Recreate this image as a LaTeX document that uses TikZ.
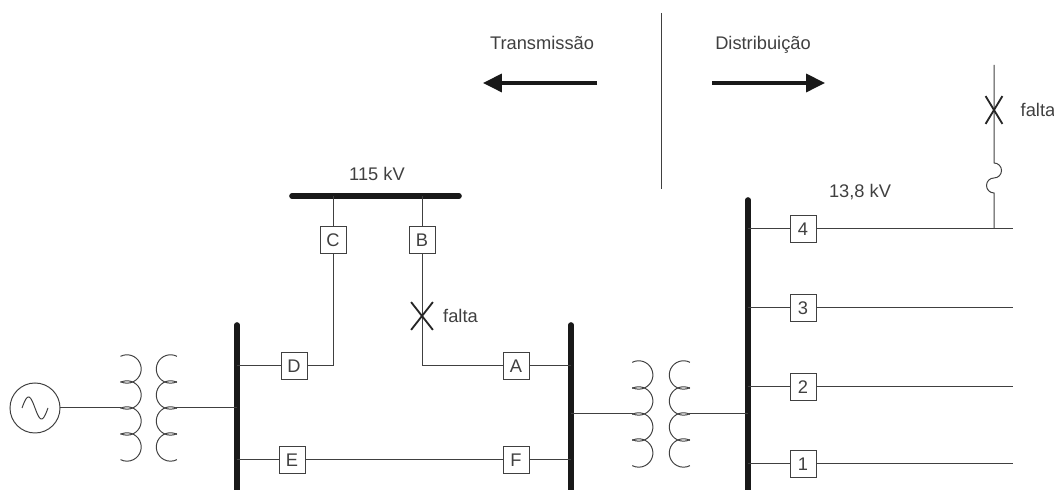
\documentclass[tikz,border=0pt]{standalone}
\usepackage{fontspec}
\setmainfont{Liberation Sans}
\usetikzlibrary{arrows.meta,positioning,shapes.misc}
\definecolor{ink}{rgb}{0.25,0.25,0.25}
\tikzset{
  brk/.style={draw=ink, fill=white, line width=0.7pt, minimum size=0.65cm, inner sep=0pt, text=ink},
  bus/.style={line width=4pt, line cap=round, draw=black!90},
  wire/.style={draw=ink, line width=0.7pt},
  fault/.style={cross out, draw=black!85, line width=1.3pt, minimum height=0.65cm, inner sep=0pt},
  lbl/.style={text=ink, inner sep=0pt},
  bigarrow/.style={line width=2.2pt, draw=black!90, -{Triangle[length=0.47cm,width=0.45cm]}},
}
\begin{document}
\begin{tikzpicture}[x=0.025cm, y=0.025cm, font=\fontsize{13}{15}\selectfont]
\useasboundingbox (0,0) rectangle (1054,490);
% barramentos
\coordinate (bL) at (237,165); \coordinate (bL0) at (237,0);
\coordinate (bM) at (571,165); \coordinate (bM0) at (571,0);
\coordinate (bR) at (748,290); \coordinate (bR0) at (748,0);
\coordinate (bT1) at (292,294); \coordinate (bT2) at (459,294);
\draw[bus] (bL) -- (bL0);
\draw[bus] (bM) -- (bM0);
\draw[bus] (bR) -- (bR0);
\draw[bus] (bT1) -- (bT2);
\node[lbl] (kv115) at (377,316) {115 kV};
\node[lbl] (kv138) at (860,298) {13,8 kV};
% gerador
\node[draw=ink, circle, line width=0.7pt, minimum size=1.25cm, inner sep=0pt] (gen) at (35,82) {};
\draw[wire] plot[domain=0:360, samples=40] ({22+\x*26/360},{82+11*sin(\x)});
% transformadores
\foreach \y in {121,95,69,43} {
  \draw[wire] (127,\y) ++(117:14.2) arc[start angle=117, end angle=-117, radius=14.2];
  \draw[wire] (170.5,\y) ++(63:14.2) arc[start angle=63, end angle=297, radius=14.2];
}
\foreach \y in {115,89,63,37} {
  \draw[wire] (638.7,\y) ++(117:14.2) arc[start angle=117, end angle=-117, radius=14.2];
  \draw[wire] (683.5,\y) ++(63:14.2) arc[start angle=63, end angle=297, radius=14.2];
}
\coordinate (t1p) at (121.3,82); \coordinate (t1s) at (176.2,82);
\coordinate (t2p) at (633,76); \coordinate (t2s) at (689.2,76);
\draw[wire] (gen.east) -- (t1p);
\draw[wire] (t1s) -- (t1s -| bL);
\draw[wire] (t2p -| bM) -- (t2p);
\draw[wire] (t2s) -- (t2s -| bR);
% disjuntores da transmissao
\node[brk] (C) at (333,250) {C};
\node[brk] (B) at (422,250) {B};
\node[brk] (D) at (294,124) {D};
\node[brk] (A) at (516,124) {A};
\node[brk] (E) at (292,30) {E};
\node[brk] (F) at (516,30) {F};
\draw[wire] (C.north) -- (C.north |- bT1);
\draw[wire] (B.north) -- (B.north |- bT1);
\draw[wire] (D.west -| bL) -- (D.west);
\draw[wire] (D.east) -| (C.south);
\draw[wire] (B.south) |- (A.west);
\draw[wire] (A.east) -- (A.east -| bM);
\draw[wire] (E.west -| bL) -- (E.west);
\draw[wire] (E.east) -- (F.west);
\draw[wire] (F.east) -- (F.east -| bM);
\node[fault, minimum width=0.5cm] (x1) at (422,174) {};
\node[lbl, right=0.25cm of x1] (f1) {falta};
% alimentadores
\foreach \n/\y in {4/261,3/182,2/103,1/26} {
  \node[brk] (s\n) at (803,\y) {\n};
  \coordinate (e\n) at (1013,\y);
  \draw[wire] (s\n.west -| bR) -- (s\n.west);
  \draw[wire] (s\n.east) -- (e\n);
}
\coordinate (tap) at (994,261); \coordinate (top) at (994,425);
\draw[wire] (tap) -- ++(0,36) arc[start angle=270, end angle=90, radius=7.5]
  arc[start angle=-90, end angle=90, radius=7.5] -- (top);
\node[fault, minimum width=0.375cm] (x2) at (994,380) {};
\node[lbl, right=0.45cm of x2] (f2) {falta};
% divisao
\coordinate (dv1) at (661,477); \coordinate (dv2) at (661,301);
\draw[wire] (dv1) -- (dv2);
\node[lbl] (trans) at (542,447) {Transmissão};
\node[lbl] (dist) at (763,445) {Distribuição};
\coordinate (aL1) at (597,407); \coordinate (aL2) at (483,407);
\coordinate (aR1) at (712,407); \coordinate (aR2) at (825,407);
\draw[bigarrow] (aL1) -- (aL2);
\draw[bigarrow] (aR1) -- (aR2);
\end{tikzpicture}
\end{document}
